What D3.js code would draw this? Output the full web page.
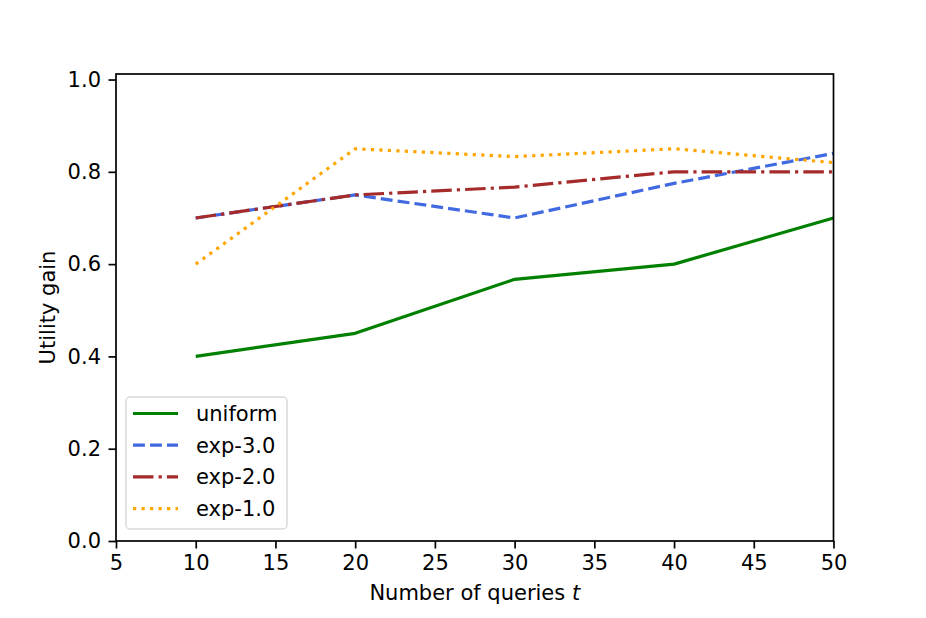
<!DOCTYPE html>
<html>
<head>
<meta charset="utf-8">
<script src="https://cdn.jsdelivr.net/npm/d3@7"></script>
<style>
  body { margin: 0; background: #fff; }
  svg text { font-family: "DejaVu Sans", sans-serif; fill: #000; }
</style>
</head>
<body>
<div id="chart"></div>
<script>
// x values (number of queries)
const queries = [10, 20, 30, 40, 50];
// series values
const uniform = [0.4, 0.45, 0.567, 0.6, 0.7];
const exp30 = [0.7, 0.75, 0.7, 0.775, 0.84];
const exp20 = [0.7, 0.75, 0.767, 0.8, 0.8];
const exp10 = [0.6, 0.85, 0.833, 0.85, 0.82];
const seriesNames = ["uniform", "exp-3.0", "exp-2.0", "exp-1.0"];
const xTicks = [5, 10, 15, 20, 25, 30, 35, 40, 45, 50];
const yTicks = [0.0, 0.2, 0.4, 0.6, 0.8, 1.0];

const width = 926, height = 618;
const margin = {left: 116, right: 926 - 833.5, top: 74, bottom: 618 - 541};
const fontSize = 21;

// line styles, matplotlib-ish dashes scaled to px
const styles = [
  {color: "#008000", dash: null},
  {color: "#4169E1", dash: "11.9,5.1"},
  {color: "#A52A2A", dash: "20.5,5.1,3.2,5.1"},
  {color: "#FFA500", dash: "3.2,5.3"}
];
const allSeries = [uniform, exp30, exp20, exp10];

const svg = d3.select("#chart").append("svg")
  .attr("width", width)
  .attr("height", height);

const x = d3.scaleLinear()
  .domain([5, 50])
  .range([margin.left, width - margin.right]);
const y = d3.scaleLinear()
  .domain([0, 1.012])
  .range([height - margin.bottom, margin.top]);

// lines
let line = d3.line()
  .x(d => x(d.q))
  .y(d => y(d.v));

allSeries.forEach((vals, i) => {
  let pts = queries.map((q, j) => ({q: q, v: vals[j]}));
  svg.append("path")
    .datum(pts)
    .attr("fill", "none")
    .attr("stroke", styles[i].color)
    .attr("stroke-width", 3.2)
    .attr("stroke-dasharray", styles[i].dash)
    .attr("stroke-linejoin", "round")
    .attr("d", line);
});

// axes
let xAxis = svg.append("g")
  .attr("transform", "translate(0," + (height - margin.bottom) + ")")
  .call(d3.axisBottom(x).tickValues(xTicks).tickSize(7.5).tickPadding(7).tickFormat(d3.format("d")));
let yAxis = svg.append("g")
  .attr("transform", "translate(" + margin.left + ",0)")
  .call(d3.axisLeft(y).tickValues(yTicks).tickSize(7.5).tickPadding(7.5).tickFormat(d3.format(".1f")));

[xAxis, yAxis].forEach(ax => {
  ax.select(".domain").remove();
  ax.selectAll(".tick line").attr("stroke", "#000").attr("stroke-width", 1.7);
  ax.selectAll(".tick text").style("font-size", fontSize + "px").style("font-family", "DejaVu Sans");
});

// frame
svg.append("rect")
  .attr("x", margin.left)
  .attr("y", margin.top)
  .attr("width", width - margin.left - margin.right)
  .attr("height", height - margin.top - margin.bottom)
  .attr("fill", "none")
  .attr("stroke", "#000")
  .attr("stroke-width", 1.7);

// axis labels
let xLab = svg.append("text")
  .attr("x", (margin.left + width - margin.right) / 2)
  .attr("y", 600)
  .attr("text-anchor", "middle")
  .style("font-size", fontSize + "px");
xLab.append("tspan").text("Number of queries ");
xLab.append("tspan").style("font-style", "italic").text("t");

svg.append("text")
  .attr("transform", "translate(55," + ((margin.top + height - margin.bottom) / 2) + ") rotate(-90)")
  .attr("text-anchor", "middle")
  .style("font-size", fontSize + "px")
  .text("Utility gain");

// legend
let legend = svg.append("g").attr("transform", "translate(126,397)");
legend.append("rect")
  .attr("width", 161)
  .attr("height", 132)
  .attr("rx", 4)
  .attr("fill", "#fff")
  .attr("fill-opacity", 0.8)
  .attr("stroke", "#d9d9d9")
  .attr("stroke-width", 1.5);

seriesNames.forEach((name, i) => {
  let row = legend.append("g").attr("transform", "translate(0," + (16.5 + i * 31.7) + ")");
  row.append("line")
    .attr("x1", 7).attr("x2", 52)
    .attr("stroke", styles[i].color)
    .attr("stroke-width", 3.2)
    .attr("stroke-dasharray", styles[i].dash);
  row.append("text")
    .attr("x", 70)
    .attr("dy", "0.35em")
    .style("font-size", fontSize + "px")
    .text(name);
});
</script>
</body>
</html>
